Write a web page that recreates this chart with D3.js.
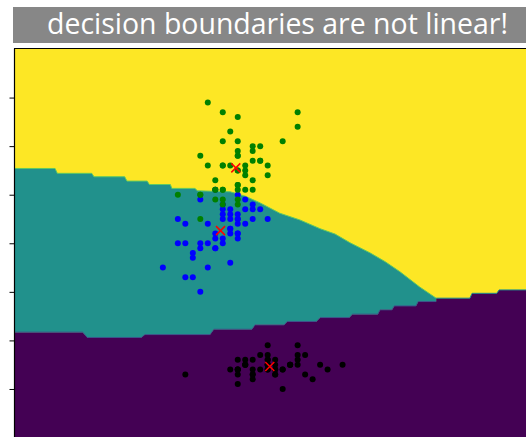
<!DOCTYPE html>
<html><head><meta charset="utf-8">
<script src="https://cdn.jsdelivr.net/npm/d3@7"></script>
<style>html,body{margin:0;padding:0;background:#fff;}svg{display:block;}</style>
</head><body>
<svg id="chart" width="526" height="437"></svg>
<script>
// ---- data: iris sepal width (x) vs petal length (y) ----
const setosaSW = [3.5,3.0,3.2,3.1,3.6,3.9,3.4,3.4,2.9,3.1,3.7,3.4,3.0,3.0,4.0,4.4,3.9,3.5,3.8,3.8,3.4,3.7,3.6,3.3,3.4,3.0,3.4,3.5,3.4,3.2,3.1,3.4,4.1,4.2,3.1,3.2,3.5,3.6,3.0,3.4,3.5,2.3,3.2,3.5,3.8,3.0,3.8,3.2,3.7,3.3];
const setosaPL = [1.4,1.4,1.3,1.5,1.4,1.7,1.4,1.5,1.4,1.5,1.5,1.6,1.4,1.1,1.2,1.5,1.3,1.4,1.7,1.5,1.7,1.5,1.0,1.7,1.9,1.6,1.6,1.5,1.4,1.6,1.6,1.5,1.5,1.4,1.5,1.2,1.3,1.4,1.3,1.5,1.3,1.3,1.3,1.6,1.9,1.4,1.6,1.4,1.5,1.4];
const versicolorSW = [3.2,3.2,3.1,2.3,2.8,2.8,3.3,2.4,2.9,2.7,2.0,3.0,2.2,2.9,2.9,3.1,3.0,2.7,2.2,2.5,3.2,2.8,2.5,2.8,2.9,3.0,2.8,3.0,2.9,2.6,2.4,2.4,2.7,2.7,3.0,3.4,3.1,2.3,3.0,2.5,2.6,3.0,2.6,2.3,2.7,3.0,2.9,2.9,2.5,2.8];
const versicolorPL = [4.7,4.5,4.9,4.0,4.6,4.5,4.7,3.3,4.6,3.9,3.5,4.2,4.0,4.7,3.6,4.4,4.5,4.1,4.5,3.9,4.8,4.0,4.9,4.7,4.3,4.4,4.8,5.0,4.5,3.5,3.8,3.7,3.9,5.1,4.5,4.5,4.7,4.4,4.1,4.0,4.4,4.6,4.0,3.3,4.2,4.2,4.2,4.3,3.0,4.1];
const virginicaSW = [3.3,2.7,3.0,2.9,3.0,3.0,2.5,2.9,2.5,3.6,3.2,2.7,3.0,2.5,2.8,3.2,3.0,3.8,2.6,2.2,3.2,2.8,2.8,2.7,3.3,3.2,2.8,3.0,2.8,3.0,2.8,3.8,2.8,2.8,2.6,3.0,3.4,3.1,3.0,3.1,3.1,3.1,2.7,3.2,3.3,3.0,2.5,3.0,3.4,3.0];
const virginicaPL = [6.0,5.1,5.9,5.6,5.8,6.6,4.5,6.3,5.8,6.1,5.1,5.3,5.5,5.0,5.1,5.3,5.5,6.7,6.9,5.0,5.7,4.9,6.7,4.9,5.7,6.0,4.8,4.9,5.6,5.8,6.1,6.4,5.6,5.1,5.6,6.1,5.6,5.5,4.8,5.4,5.6,5.1,5.1,5.9,5.7,5.2,5.0,5.2,5.4,5.1];
const centroidSW = [3.428, 2.770, 2.974];
const centroidPL = [1.462, 4.260, 5.552];
// decision boundaries (sepal width, petal length)
const upperBoundary = [[0.0,5.54],[0.56,5.54],[0.59,5.44],[1.05,5.44],[1.08,5.37],[1.49,5.37],[1.52,5.28],[1.79,5.28],[1.82,5.21],[2.10,5.21],[2.12,5.13],[2.43,5.13],[2.46,5.08],[2.90,5.06],[3.10,4.97],[3.30,4.83],[3.56,4.62],[3.83,4.48],[4.10,4.30],[4.30,4.19],[4.50,4.01],[4.77,3.80],[4.97,3.62],[5.17,3.41],[5.43,3.10],[5.65,2.87]];
const lowerBoundary = [[0.0,2.17],[0.93,2.17],[0.99,2.06],[1.71,2.06],[1.76,2.12],[2.63,2.12],[2.68,2.23],[3.19,2.23],[3.23,2.32],[3.62,2.32],[3.66,2.39],[4.05,2.39],[4.10,2.47],[4.49,2.47],[4.53,2.54],[4.87,2.54],[4.90,2.63],[5.06,2.63],[5.09,2.71],[5.38,2.71],[5.41,2.80],[5.65,2.80]];
const rightBoundary = [[5.65,2.87],[6.10,2.87],[6.13,2.97],[6.46,2.97],[6.49,3.04],[7.2,3.04]];
const yTicks = [1,2,3,4,5,6,7];
const titleText = "decision boundaries are not linear!";

// ---- drawing ----
const svg = d3.select("#chart");
const pLeft = 15, pTop = 49, pRight = 540, pBottom = 437.55;
const x = d3.scaleLinear().domain([0.025, 6.85]).range([pLeft, 526]);
const y = d3.scaleLinear().domain([0, 8]).range([pBottom, pTop]);

svg.append("defs").append("clipPath").attr("id","clip")
  .append("rect").attr("x",pLeft).attr("y",pTop).attr("width",pRight-pLeft).attr("height",pBottom-pTop+5);

const g = svg.append("g").attr("clip-path","url(#clip)");
const line = d3.line().x(d=>x(d[0])).y(d=>y(d[1]));

g.append("rect").attr("x",pLeft).attr("y",pTop).attr("width",pRight-pLeft).attr("height",pBottom-pTop+5).attr("fill","#fde725");
// purple region
const purplePoly = [[-0.5,2.17]].concat(lowerBoundary).concat(rightBoundary).concat([[7.2,-1],[-0.5,-1]]);
g.append("path").attr("d", line(purplePoly) + "Z").attr("fill","#440154");
// teal region
const tealPoly = [[-0.5,5.54]].concat(upperBoundary).concat(lowerBoundary.slice().reverse()).concat([[-0.5,2.17]]);
g.append("path").attr("d", line(tealPoly) + "Z").attr("fill","#21918c");
// soft edges
g.append("path").attr("d", line(upperBoundary)).attr("fill","none").attr("stroke","#5ec962").attr("stroke-width",1);
g.append("path").attr("d", line(lowerBoundary)).attr("fill","none").attr("stroke","#3b528b").attr("stroke-width",1);
g.append("path").attr("d", line(rightBoundary)).attr("fill","none").attr("stroke","#21918c").attr("stroke-width",1);

// points
const groups = [[setosaSW,setosaPL,"#000000"],[versicolorSW,versicolorPL,"#0000ff"],[virginicaSW,virginicaPL,"#008000"]];
groups.forEach(([xs,ys,c])=>{
  g.append("g").selectAll("circle").data(xs.map((v,i)=>[v,ys[i]])).join("circle")
    .attr("cx",d=>x(d[0])).attr("cy",d=>y(d[1])).attr("r",3).attr("fill",c);
});
// centroids
const cs = 4.5;
g.append("g").selectAll("path").data(centroidSW.map((v,i)=>[v,centroidPL[i]])).join("path")
  .attr("d",d=>{const cx=x(d[0]),cy=y(d[1]);return `M${cx-cs},${cy-cs}L${cx+cs},${cy+cs}M${cx-cs},${cy+cs}L${cx+cs},${cy-cs}`;})
  .attr("stroke","#ff0000").attr("stroke-width",1.5).attr("fill","none");

// axes
const yAxis = d3.axisLeft(y).tickValues(yTicks).tickSize(5).tickFormat("");
const ag = svg.append("g").attr("transform",`translate(${pLeft-0.5},0)`).call(yAxis);
ag.select(".domain").remove();
ag.selectAll(".tick line").attr("stroke","#000").attr("stroke-width",1);
svg.append("line").attr("x1",pLeft-0.5).attr("x2",pLeft-0.5).attr("y1",pTop-0.5).attr("y2",pBottom+2).attr("stroke","#000").attr("stroke-width",1.2);
svg.append("line").attr("x1",pLeft-1).attr("x2",526).attr("y1",pTop-0.5).attr("y2",pTop-0.5).attr("stroke","#000").attr("stroke-width",1.2);

// title
svg.append("rect").attr("x",13).attr("y",7).attr("width",530).attr("height",36).attr("fill","#878787");
const t = svg.append("text").attr("x",277.5).attr("y",34).attr("text-anchor","middle")
  .attr("fill","#ffffff").style("font-family","'Open Sans', sans-serif").style("font-size","25px").text(titleText);
const w = t.node().getComputedTextLength();
t.style("font-size", (25*461/w).toFixed(2)+"px");
</script>
</body></html>
